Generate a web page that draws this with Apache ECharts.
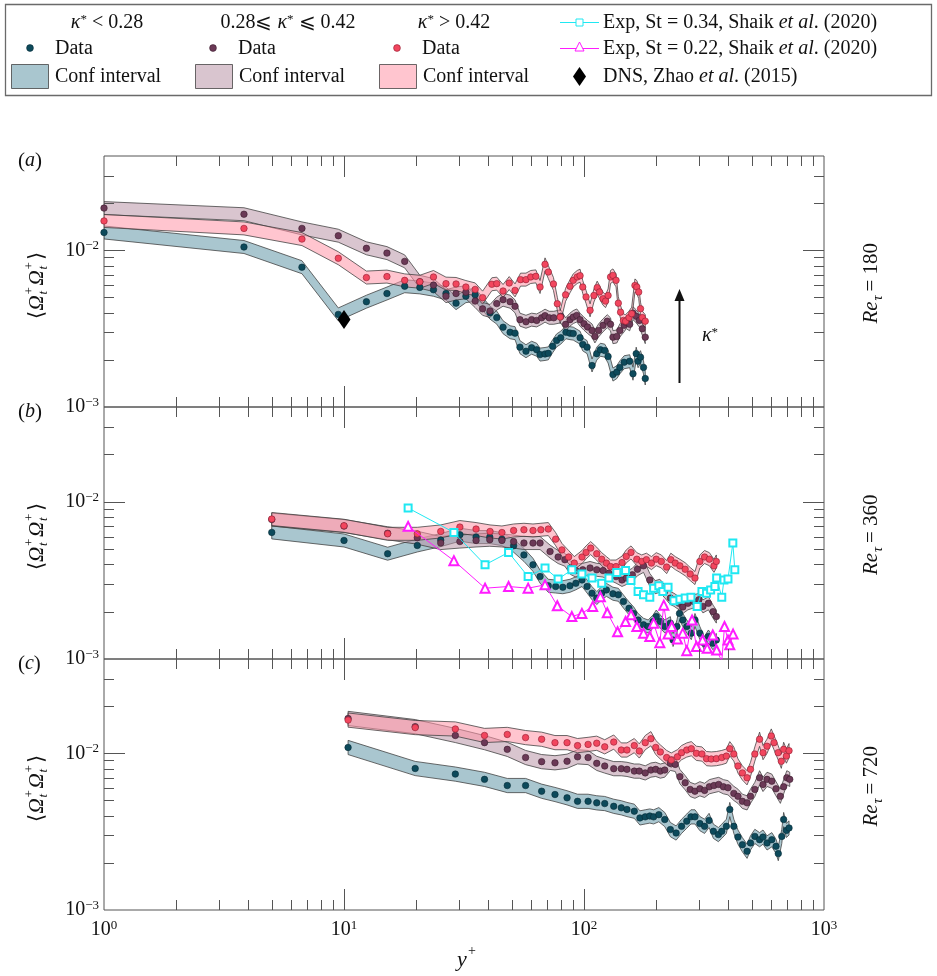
<!DOCTYPE html>
<html>
<head>
<meta charset="utf-8">
<title>Vorticity correlation profiles</title>
<script src="https://cdn.jsdelivr.net/npm/echarts@6.0.0/dist/echarts.min.js"></script>
<style>
html, body { margin: 0; padding: 0; background: #fff; }
#chart { width: 937px; height: 976px; }
</style>
</head>
<body>
<div id="chart"></div>
<script>
// ---------- data: pairs of [y+, <Ω_t+ Ω_t+>] ----------
// Re_tau = 180
const lowA = [[1,0.0130],[3.83,0.0105],[6.68,0.0078],[9.47,0.0039],[12.4,0.0047],[15.1,0.0053],[17.9,0.0059],[20.7,0.0058],[23.6,0.0056],[26.6,0.0053],[29.3,0.0046],[32.2,0.0051],[35.2,0.0052],[40.6,0.0040],[43.3,0.00372],[46,0.00323],[49.2,0.0030],[51.6,0.00296],[54.1,0.00241],[57.3,0.00227],[60.5,0.00239],[63.5,0.00232],[65.6,0.00216],[68.8,0.00218],[71,0.0022],[74,0.00244],[76.9,0.00266],[80,0.00277],[84.1,0.0030],[87.4,0.00296],[90.2,0.00294],[96.3,0.00277],[98.8,0.00251],[103,0.00241],[108,0.00184],[113,0.00219],[117,0.00232],[122,0.00229],[126,0.0021],[132,0.00161],[137,0.00167],[141,0.00179],[147,0.00193],[155,0.00196],[160,0.00163],[165,0.00219],[168,0.00196],[172,0.00208],[177,0.00179],[180,0.00152]];
const midA = [[1,0.0186],[3.83,0.017],[6.68,0.0138],[9.47,0.0124],[12.4,0.0103],[15.1,0.0096],[17.9,0.0085],[20.7,0.0063],[23.6,0.0060],[26.6,0.0051],[29.3,0.0053],[32.2,0.0054],[35.2,0.00474],[37.8,0.00423],[40.6,0.0041],[43.3,0.00457],[46,0.00484],[49.2,0.0047],[51.6,0.00439],[54.1,0.00361],[57.3,0.0035],[60.5,0.00361],[63.5,0.00357],[66.6,0.00371],[68.8,0.00383],[71.6,0.00371],[74.8,0.00371],[80,0.00379],[83.8,0.00337],[87.4,0.00361],[90.2,0.00375],[93.3,0.00384],[96.3,0.00361],[100,0.0034],[103.5,0.00324],[108,0.00308],[111,0.00282],[115,0.00308],[120,0.00332],[125,0.00353],[129,0.00337],[132,0.00279],[137,0.00282],[141,0.00308],[147,0.00332],[150,0.00348],[155,0.00337],[160,0.00397],[165,0.00379],[170,0.00357],[175,0.00316],[180,0.00279]];
const highA = [[1,0.0154],[3.83,0.0138],[6.68,0.0118],[9.47,0.0089],[12.4,0.0067],[15.1,0.0068],[17.9,0.00643],[20.7,0.0063],[23.6,0.00676],[26.6,0.00613],[29.3,0.0061],[32.2,0.00583],[35.2,0.00563],[37.8,0.00499],[41.3,0.00607],[43.3,0.00613],[46,0.0055],[48.8,0.00618],[51.6,0.00555],[54.4,0.0065],[57.3,0.0065],[60,0.00676],[63,0.00682],[65.6,0.00583],[68.8,0.00814],[71,0.00727],[74.6,0.0061],[77.4,0.00456],[79.6,0.00375],[83.8,0.0052],[87.4,0.00589],[90.2,0.00643],[93.7,0.00676],[96.3,0.00689],[98.8,0.00583],[102,0.00504],[106,0.00414],[110,0.00515],[113.5,0.00578],[116,0.00542],[120,0.00491],[123,0.00474],[126,0.00515],[129,0.00676],[132,0.00692],[136,0.00643],[139,0.0046],[142,0.00403],[146,0.00357],[149,0.00353],[154,0.00372],[158,0.00394],[163,0.00597],[166,0.00583],[169,0.00542],[172,0.00424],[175,0.00372],[180,0.00353]];
const dnsZhao = [[10,0.00362]];

// Re_tau = 360
const lowB = [[5,0.00638],[10,0.00567],[15.2,0.00467],[20.2,0.00527],[25.3,0.0057],[30.4,0.00617],[35.5,0.00596],[40.5,0.00596],[45.5,0.00578],[50.9,0.00525],[56.2,0.00459],[61.3,0.00397],[65.6,0.00334],[71,0.00292],[76.2,0.00289],[81.6,0.00286],[87.4,0.00292],[92.5,0.00303],[98.1,0.00318],[103,0.00289],[108,0.00262],[113,0.00244],[118.5,0.00262],[124,0.00275],[132,0.0026],[139,0.00256],[146,0.00232],[154,0.0021],[161,0.00195],[168,0.00177],[177,0.00165],[185,0.00161],[194,0.00173],[200,0.00186],[208,0.00173],[217,0.00161],[229,0.00169],[235,0.00132],[244,0.00161],[250,0.00195],[258,0.00177],[268,0.00161],[280,0.00146],[290,0.00177],[304,0.00146],[317,0.00126],[330,0.00139],[344,0.00126],[356,0.00132]];
const midB = [[5,0.0077],[10,0.0070],[15.2,0.0063],[20.2,0.0059],[25.3,0.00546],[30.4,0.00558],[35.5,0.00567],[40.5,0.00573],[45.5,0.00567],[50.9,0.00558],[56.2,0.00546],[61.3,0.00546],[65.6,0.00546],[72.2,0.00482],[78,0.00445],[83.2,0.00428],[87.9,0.00379],[92.5,0.00365],[98.8,0.00369],[106,0.00379],[113,0.00369],[120,0.00365],[127,0.00351],[136,0.00334],[144,0.00318],[150,0.00327],[159,0.00343],[167,0.00372],[177,0.00391],[188,0.00318],[198,0.00286],[207,0.00292],[217,0.00269],[229,0.00244],[237,0.00238],[249,0.00226],[258,0.00214],[271,0.00226],[286,0.00232],[301,0.00238],[313,0.00216],[330,0.00226],[345,0.0020],[356,0.00186]];
const highB = [[5,0.00776],[10,0.00703],[15.2,0.00625],[20.2,0.00625],[25.3,0.00647],[30.4,0.0069],[35.5,0.0067],[40.6,0.00647],[45.5,0.00637],[50.9,0.00656],[56.2,0.00663],[61.3,0.00656],[66.1,0.00663],[71,0.0067],[76.2,0.00578],[80.9,0.00494],[86.3,0.00445],[91.1,0.00407],[98.1,0.00445],[102,0.00476],[106.6,0.00507],[113,0.00467],[118.5,0.00431],[124,0.00407],[129,0.00387],[136,0.00387],[144,0.0041],[150,0.00449],[157,0.00476],[166,0.00431],[174,0.00417],[182,0.00428],[191,0.00407],[200,0.00431],[210,0.00417],[221,0.00384],[230,0.00428],[240,0.00407],[251,0.00391],[264,0.00372],[277,0.00347],[290,0.00327],[304,0.00417],[318,0.00445],[333,0.00431],[348,0.00391],[356,0.00417]];
const expSt034 = [[18.5,0.00912],[28.7,0.00638],[38.7,0.00397],[48.5,0.00476],[58.5,0.00334],[68.8,0.00379],[78,0.00322],[89,0.00369],[98,0.00347],[108,0.00327],[118.5,0.00303],[127,0.00327],[137,0.00355],[149,0.00365],[157,0.00315],[168,0.00269],[177,0.00256],[188,0.00247],[195,0.00282],[205,0.00292],[213,0.00269],[224,0.00286],[237,0.00235],[251,0.0024],[264,0.00244],[279,0.00247],[296,0.00216],[310,0.00269],[324,0.00262],[337,0.00275],[351,0.00289],[357,0.00327],[375,0.00247],[383,0.00318],[398,0.00322],[417,0.00546],[425,0.00369]];
const expSt022 = [[18.5,0.00697],[28.7,0.00422],[38.7,0.00282],[48.5,0.00289],[58.5,0.00282],[68.8,0.00296],[77.4,0.00218],[89,0.00186],[98,0.00195],[108.7,0.00216],[117,0.00249],[125,0.00197],[138,0.00149],[149,0.00173],[157,0.00191],[166,0.00161],[177,0.00146],[188,0.00139],[195,0.00169],[207,0.00127],[215,0.0022],[224,0.00144],[232,0.00161],[245,0.00134],[258,0.00146],[268,0.00113],[282,0.00177],[294,0.0012],[312,0.00132],[326,0.00117],[344,0.00142],[357,0.00114],[375,0.00097],[385,0.00161],[398,0.00132],[405,0.00123],[418,0.00144]];

// Re_tau = 720
const lowC = [[10.4,0.0109],[19.8,0.0080],[29.1,0.00737],[38.5,0.00682],[47.9,0.00623],[57.1,0.00623],[66.6,0.00573],[75.7,0.00546],[85,0.0052],[94,0.00494],[104,0.00494],[113,0.00483],[122,0.00478],[133,0.00459],[143,0.00449],[151,0.00438],[162,0.00427],[171,0.00387],[180,0.00393],[188,0.00398],[195,0.00393],[205,0.00406],[217,0.00378],[229,0.00326],[242,0.0031],[255,0.00342],[268,0.00369],[279,0.00393],[290,0.00393],[304,0.00356],[318,0.00342],[332,0.00373],[346,0.00318],[363,0.00303],[375,0.00318],[392,0.00342],[405,0.00438],[421,0.00342],[438,0.00292],[457,0.00261],[478,0.00237],[494,0.00268],[515,0.00295],[539,0.00281],[557,0.00292],[579,0.00268],[606,0.00281],[631,0.00255],[645,0.00229],[667,0.00295],[679,0.00378],[697,0.00322],[715,0.00334]];
const midC = [[10.4,0.0167],[19.8,0.0148],[29.1,0.0130],[38.5,0.0117],[47.9,0.0106],[57.1,0.0094],[66.6,0.00885],[75.7,0.0087],[85,0.0089],[94,0.0095],[104,0.0094],[113,0.00863],[122,0.0083],[133,0.00798],[143,0.00798],[151,0.0079],[162,0.0077],[170,0.0077],[180,0.0075],[190,0.00782],[199,0.0079],[208,0.0077],[217,0.00782],[229,0.00863],[240,0.0085],[251,0.0071],[264,0.00649],[277,0.00588],[290,0.00573],[304,0.00594],[318,0.0058],[333,0.00612],[348,0.00623],[364,0.00633],[381,0.00612],[398,0.00603],[421,0.00555],[438,0.00532],[457,0.00494],[478,0.00483],[494,0.00532],[515,0.00588],[539,0.00698],[557,0.00633],[579,0.00682],[606,0.00664],[631,0.00594],[658,0.00532],[679,0.00612],[700,0.00698],[720,0.00682]];
const highC = [[10.4,0.0163],[19.8,0.0146],[29.1,0.0143],[38.5,0.0130],[47.9,0.0132],[57.1,0.0126],[66.6,0.0123],[75.7,0.0117],[85,0.0117],[94,0.0112],[104,0.0114],[113,0.0116],[122,0.0110],[133,0.0118],[143,0.0105],[151,0.0105],[162,0.0112],[170,0.01035],[180,0.0117],[190,0.0124],[199,0.0109],[208,0.0102],[221,0.0094],[231,0.00906],[245,0.0095],[255,0.0101],[268,0.0105],[280,0.0107],[294,0.0100],[310,0.0099],[324,0.00925],[339,0.0092],[356,0.00925],[375,0.0094],[392,0.0096],[405,0.0107],[421,0.0099],[438,0.0083],[457,0.0075],[478,0.00698],[494,0.0079],[515,0.0099],[539,0.0123],[557,0.0101],[579,0.0111],[603,0.0129],[619,0.0117],[644,0.0101],[664,0.0089],[679,0.0106],[697,0.0096],[715,0.0104]];

// relative half-width of the confidence interval in each panel
const bandHalfWidth = [0.10, 0.10, 0.11];
const reTau = ['180', '360', '720'];
const panelLetters = ['a', 'b', 'c'];
const xDecades = [1, 10, 100, 1000];
const yDecades = [0.001, 0.01];
const yMax = 0.04;

// ---------- layout & style ----------
const SERIF = 'Liberation Serif';
const INK = '#111';
const FRAME = '#555';
const LEFT = 104, WIDTH = 720;
const tops = [156, 407, 659];
const heights = [251, 252, 251];
const CYAN = '#1fe8f2';
const MAGENTA = '#ff1cff';

const groupStyles = [
  { band: 'rgba(112,160,175,0.6)', dot: '#0d4a5b', edge: '#062c37' },
  { band: 'rgba(185,150,168,0.55)', dot: '#6b3956', edge: '#3a1c2d' },
  { band: 'rgba(255,150,168,0.55)', dot: '#f2465e', edge: '#8e1c30' }
];
const panelGroups = [[lowA, midA, highA], [lowB, midB, highB], [lowC, midC, highC]];

function bandSeries(rows, frac, gi, st) {
  const data = rows.map(r => [r[0], r[1] / (1 + frac), r[1] * (1 + frac)]);
  return {
    type: 'custom', xAxisIndex: gi, yAxisIndex: gi, data: data, z: 1, silent: true, clip: true,
    encode: { x: 0, y: [1, 2] },
    renderItem: function (params, api) {
      if (params.dataIndex !== 0) return;
      const up = data.map(d => api.coord([d[0], d[2]]));
      const lo = data.map(d => api.coord([d[0], d[1]])).reverse();
      return {
        type: 'polygon', shape: { points: up.concat(lo) },
        style: { fill: st.band, stroke: 'rgba(60,60,60,0.85)', lineWidth: 0.9 }
      };
    }
  };
}

function dotSeries(rows, gi, st) {
  return {
    type: 'scatter', xAxisIndex: gi, yAxisIndex: gi, data: rows, z: 2, silent: true,
    symbol: 'circle', symbolSize: 6.5,
    itemStyle: { color: st.dot, borderColor: st.edge, borderWidth: 0.6, opacity: 1 }
  };
}

// tick positions (minor 2..9 in each decade, major at decades)
const xTickRows = [];
[1, 10, 100].forEach(d => { for (let m = 1; m <= 9; m++) { if (d * m > 1) xTickRows.push([d * m, 0.01, m === 1 ? 1 : 0]); } });
const yTickRows = [];
yDecades.forEach(d => { for (let m = 1; m <= 9; m++) { const v = d * m; if (v > 0.001 && v < yMax) yTickRows.push([10, v, m === 1 ? 1 : 0]); } });

function xTickSeries(gi) {
  return {
    type: 'custom', xAxisIndex: gi, yAxisIndex: gi, data: xTickRows, z: 6, silent: true,
    encode: { x: 0, y: 1 },
    renderItem: function (params, api) {
      const cs = params.coordSys;
      const x = Math.round(api.coord([api.value(0), 0.01])[0]) + 0.5;
      const len = api.value(2) ? 21 : 10;
      const s = { stroke: FRAME, lineWidth: 1 };
      return { type: 'group', children: [
        { type: 'line', shape: { x1: x, y1: cs.y + cs.height, x2: x, y2: cs.y + cs.height - len }, style: s },
        { type: 'line', shape: { x1: x, y1: cs.y, x2: x, y2: cs.y + len }, style: s }
      ] };
    }
  };
}
function yTickSeries(gi) {
  return {
    type: 'custom', xAxisIndex: gi, yAxisIndex: gi, data: yTickRows, z: 6, silent: true,
    encode: { x: 0, y: 1 },
    renderItem: function (params, api) {
      const cs = params.coordSys;
      const y = Math.round(api.coord([10, api.value(1)])[1]) + 0.5;
      const len = api.value(2) ? 21 : 10;
      const s = { stroke: FRAME, lineWidth: 1 };
      return { type: 'group', children: [
        { type: 'line', shape: { x1: cs.x, y1: y, x2: cs.x + len, y2: y }, style: s },
        { type: 'line', shape: { x1: cs.x + cs.width, y1: y, x2: cs.x + cs.width - len, y2: y }, style: s }
      ] };
    }
  };
}

const series = [];
panelGroups.forEach((groups, gi) => {
  groups.forEach((rows, k) => {
    series.push(bandSeries(rows, bandHalfWidth[gi], gi, groupStyles[k]));
    series.push(dotSeries(rows, gi, groupStyles[k]));
  });
  series.push(xTickSeries(gi));
  series.push(yTickSeries(gi));
});
series.push({
  type: 'line', xAxisIndex: 1, yAxisIndex: 1, data: expSt034, z: 4, silent: true,
  symbol: 'emptyRect', symbolSize: 7,
  lineStyle: { color: CYAN, width: 1 }, itemStyle: { color: CYAN, borderWidth: 1 }
});
series.push({
  type: 'line', xAxisIndex: 1, yAxisIndex: 1, data: expSt022, z: 4, silent: true,
  symbol: 'emptyTriangle', symbolSize: 9,
  lineStyle: { color: MAGENTA, width: 1 }, itemStyle: { color: MAGENTA, borderWidth: 1 }
});
series.push({
  type: 'scatter', xAxisIndex: 0, yAxisIndex: 0, data: dnsZhao, z: 5, silent: true,
  symbol: 'diamond', symbolSize: [13, 19], itemStyle: { color: '#000', opacity: 1 }
});

const tickRich = {
  b: { fontFamily: SERIF, fontSize: 20, color: INK, lineHeight: 22 },
  s: { fontFamily: SERIF, fontSize: 13, color: INK, lineHeight: 12, verticalAlign: 'top' }
};
function powLabel(v) {
  const l = Math.log10(v), e = Math.round(l);
  if (Math.abs(l - e) > 1e-6) return '';
  return '{b|10}{s|' + (e < 0 ? '\u2212' + (-e) : e) + '}';
}

const grids = tops.map((t, i) => ({
  left: LEFT, width: WIDTH, top: t, height: heights[i], containLabel: false, outerBoundsMode: 'none',
  show: true, borderColor: FRAME, borderWidth: 1, backgroundColor: 'transparent'
}));
const xAxes = tops.map((t, i) => ({
  type: 'log', logBase: 10, min: xDecades[0], max: xDecades[xDecades.length - 1], gridIndex: i,
  axisLine: { show: false }, axisTick: { show: false }, splitLine: { show: false },
  axisLabel: i === 2 ? { show: true, formatter: powLabel, rich: tickRich, margin: 9 } : { show: false }
}));
const yAxes = tops.map((t, i) => ({
  type: 'log', logBase: 10, min: yDecades[0], max: yMax, gridIndex: i,
  axisLine: { show: false }, axisTick: { show: false }, splitLine: { show: false },
  axisLabel: { show: true, formatter: powLabel, rich: tickRich, margin: 5, showMaxLabel: false }
}));

// ---------- text, legend and annotations ----------
const RICH = {
  i: { fontFamily: SERIF, fontStyle: 'italic', fontSize: 20, fill: INK },
  sup: { fontFamily: SERIF, fontSize: 13, fill: INK, verticalAlign: 'top', lineHeight: 12 }
};
function txt(x, y, text, extra) {
  return { type: 'text', x: x, y: y, silent: true, z: 10,
    style: Object.assign({ text: text, fontFamily: SERIF, fontSize: 20, fill: INK, verticalAlign: 'middle', align: 'left', rich: RICH }, extra || {}) };
}
function piece(x, y, text, size, italic) {
  return { type: 'text', x: x, y: y, silent: true,
    style: { text: text, fontFamily: SERIF, fontSize: size, fontStyle: italic ? 'italic' : 'normal', fill: INK, verticalAlign: 'middle', align: 'left' } };
}
function yName(cy) {
  return { type: 'group', x: 37, y: cy, rotation: Math.PI / 2, silent: true, z: 10, children: [
    piece(-34, 0, '\u27E8', 21, false),
    piece(-26, 0, '\u03A9', 21, true),
    piece(-10, -7, '+', 13, false),
    piece(-10, 7, 't', 13, true),
    piece(-1, 0, '\u03A9', 21, true),
    piece(15, -7, '+', 13, false),
    piece(15, 7, 't', 13, true),
    piece(25, 0, '\u27E9', 21, false)
  ] };
}
function reLabel(cy, val) {
  return { type: 'group', x: 871, y: cy, rotation: Math.PI / 2, silent: true, z: 10, children: [
    piece(-44, 0, 'Re', 21, true),
    piece(-21, 7, '\u03C4', 14, true),
    piece(-12, 0, '= ' + val, 21, false)
  ] };
}

const graphic = [];
// legend frame
graphic.push({ type: 'rect', silent: true, z: 9, shape: { x: 5.5, y: 4.5, width: 926, height: 91 }, style: { fill: '#fff', stroke: '#6a6a6a', lineWidth: 1.3 } });
graphic.push(txt(107, 23, '{i|\u03BA}{sup|*} < 0.28', { align: 'center' }));
graphic.push(txt(288, 23, '0.28\u2A7D {i|\u03BA}{sup|*} \u2A7D 0.42', { align: 'center' }));
graphic.push(txt(454, 23, '{i|\u03BA}{sup|*} > 0.42', { align: 'center' }));
const dotX = [30, 213, 397], rectX = [11, 195, 379];
groupStyles.forEach((st, k) => {
  graphic.push({ type: 'circle', silent: true, z: 10, shape: { cx: dotX[k], cy: 48, r: 3.4 }, style: { fill: st.dot, stroke: st.edge, lineWidth: 0.6 } });
  graphic.push(txt(dotX[k] + 25, 49, 'Data'));
  graphic.push({ type: 'rect', silent: true, z: 10, shape: { x: rectX[k] + 0.5, y: 64.5, width: 37, height: 24 }, style: { fill: st.band, stroke: 'rgba(60,60,60,0.85)', lineWidth: 0.9 } });
  graphic.push(txt(rectX[k] + 44, 77, 'Conf interval'));
});
// experimental and DNS keys
graphic.push({ type: 'line', silent: true, z: 10, shape: { x1: 560, y1: 22.5, x2: 599, y2: 22.5 }, style: { stroke: CYAN, lineWidth: 1.2 } });
graphic.push({ type: 'rect', silent: true, z: 11, shape: { x: 576, y: 19, width: 7, height: 7 }, style: { fill: '#fff', stroke: CYAN, lineWidth: 1 } });
graphic.push(txt(603, 23, 'Exp, St = 0.34, Shaik {i|et al}. (2020)'));
graphic.push({ type: 'line', silent: true, z: 10, shape: { x1: 560, y1: 48.5, x2: 599, y2: 48.5 }, style: { stroke: MAGENTA, lineWidth: 1.2 } });
graphic.push({ type: 'polygon', silent: true, z: 11, shape: { points: [[579.5, 42], [575, 51], [584, 51]] }, style: { fill: '#fff', stroke: MAGENTA, lineWidth: 1 } });
graphic.push(txt(603, 49, 'Exp, St = 0.22, Shaik {i|et al}. (2020)'));
graphic.push({ type: 'polygon', silent: true, z: 11, shape: { points: [[579.5, 67], [586, 76.5], [579.5, 86], [573, 76.5]] }, style: { fill: '#000' } });
graphic.push(txt(603, 77, 'DNS, Zhao {i|et al}. (2015)'));

// panel letters, axis names, Re labels
tops.forEach((t, i) => {
  graphic.push(txt(18, t + 5, '({i|' + panelLetters[i] + '})', { fontSize: 21 }));
  graphic.push(yName(t + heights[i] / 2 + 3));
  graphic.push(reLabel(t + heights[i] / 2 - 2, reTau[i]));
});
graphic.push(piece(457, 960, 'y', 22, true));
graphic.push(piece(468, 951, '+', 14, false));

// kappa* arrow in panel (a)
graphic.push({ type: 'line', silent: true, z: 10, shape: { x1: 679.5, y1: 383, x2: 679.5, y2: 298 }, style: { stroke: '#111', lineWidth: 2 } });
graphic.push({ type: 'polygon', silent: true, z: 10, shape: { points: [[679.5, 289], [674.5, 301], [684.5, 301]] }, style: { fill: '#111' } });
graphic.push(txt(702, 336, '{i|\u03BA}{sup|*}'));

const chart = echarts.init(document.getElementById('chart'), null, { renderer: 'canvas' });
chart.setOption({
  animation: false,
  backgroundColor: '#fff',
  grid: grids,
  xAxis: xAxes,
  yAxis: yAxes,
  series: series,
  graphic: graphic
});
</script>
</body>
</html>
